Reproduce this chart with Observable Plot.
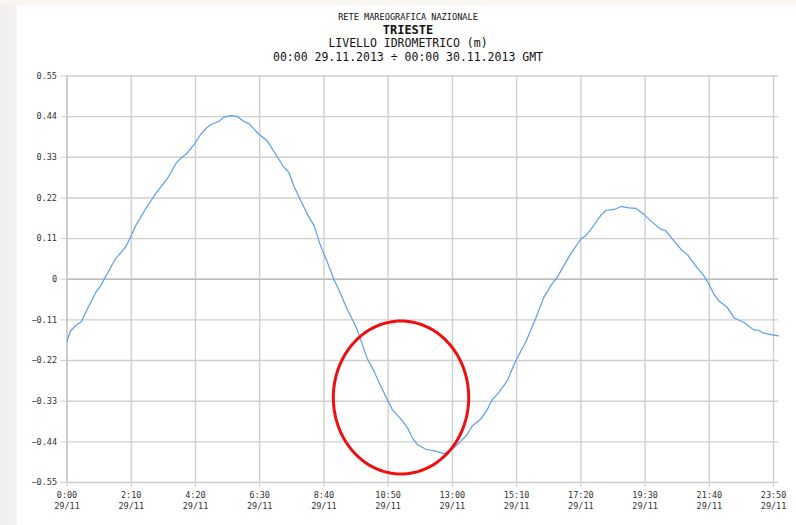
<!DOCTYPE html>
<html>
<head>
<meta charset="utf-8">
<script src="https://cdn.jsdelivr.net/npm/d3@7"></script>
<script src="https://cdn.jsdelivr.net/npm/@observablehq/plot@0.6"></script>
<style>
  html, body { margin: 0; padding: 0; width: 796px; height: 525px; overflow: hidden; background: #ffffff; }
  #page { position: relative; width: 796px; height: 525px; background: #fff; }
  #strip-left { position: absolute; left: 0; top: 0; width: 17px; height: 525px; background: linear-gradient(to right, #f1efee, #f6f4f3); }
  #strip-top { position: absolute; left: 0; top: 0; width: 796px; height: 5px; background: #f9f5ef; }
  #titles { position: absolute; left: 0; top: 0; width: 816px; height: 65px; text-align: center; font-family: "DejaVu Sans Mono", monospace; color: #111; }
  #titles div { white-space: pre; }
  #t1 { position: absolute; top: 12px; width: 100%; font-size: 8.6px; }
  #t2 { position: absolute; top: 23px; width: 100%; font-size: 12px; font-weight: bold; }
  #t3 { position: absolute; top: 36px; width: 100%; font-size: 11.5px; }
  #t4 { position: absolute; top: 50px; width: 100%; font-size: 11.5px; }
  #chart { position: absolute; left: 0; top: 65px; }
</style>
</head>
<body>
<div id="page">
  <div id="strip-left"></div>
  <div id="strip-top"></div>
  <div id="titles">
    <div id="t1">RETE MAREOGRAFICA NAZIONALE</div>
    <div id="t2">TRIESTE</div>
    <div id="t3">LIVELLO IDROMETRICO (m)</div>
    <div id="t4">00:00 29.11.2013 ÷ 00:00 30.11.2013 GMT</div>
  </div>
  <div id="chart"></div>
</div>
<script>
// Observation times (GMT, 29/11/2013) and sea level (m)
const times = [
  "00:00","00:07","00:17","00:29","00:41","00:58","01:08","01:21","01:38","01:58",
  "02:07","02:19","02:39","02:59","03:23","03:40","03:50","04:03","04:17","04:30",
  "04:42","04:50","05:07","05:17","05:31","05:44","05:58","06:08","06:28","06:45",
  "07:02","07:19","07:29","07:39","07:53","08:06","08:20","08:33","08:47","09:00",
  "09:14","09:27","09:44","09:54","10:08","10:21","10:35","10:48","10:58","11:19",
  "11:29","11:39","11:49","12:06","12:26","12:43","13:00","13:17","13:30","13:40",
  "13:57","14:11","14:21","14:34","14:51","15:08","15:28","15:48","16:05","16:19",
  "16:32","16:59","17:20","17:30","17:43","18:00","18:10","18:30","18:42","18:57",
  "19:11","19:28","19:45","20:01","20:12","20:25","20:42","20:56","21:12","21:29",
  "21:39","21:49","21:59","22:16","22:30","22:50","23:10","23:20","23:30","23:51",
  "24:00"
];
const levels = [
  -0.167,-0.140,-0.126,-0.115,-0.081,-0.036,-0.018, 0.014, 0.055, 0.086,
   0.109, 0.145, 0.190, 0.231, 0.272, 0.312, 0.327, 0.341, 0.364, 0.391,
   0.409, 0.418, 0.427, 0.438, 0.443, 0.441, 0.427, 0.421, 0.393, 0.375,
   0.339, 0.303, 0.289, 0.253, 0.213, 0.177, 0.145, 0.091, 0.046, 0.000,
  -0.040,-0.081,-0.126,-0.162,-0.216,-0.248,-0.289,-0.325,-0.352,-0.383,
  -0.402,-0.429,-0.447,-0.460,-0.465,-0.472,-0.460,-0.438,-0.420,-0.397,
  -0.379,-0.352,-0.325,-0.307,-0.275,-0.221,-0.171,-0.108,-0.049,-0.018,
   0.005, 0.068, 0.109, 0.118, 0.140, 0.172, 0.186, 0.190, 0.197, 0.193,
   0.192, 0.175, 0.154, 0.136, 0.131, 0.109, 0.082, 0.066, 0.037, 0.009,
  -0.013,-0.040,-0.058,-0.076,-0.104,-0.117,-0.137,-0.138,-0.146,-0.151,
  -0.153
];
// Axis ticks
const yTicks = [-0.55, -0.44, -0.33, -0.22, -0.11, 0, 0.11, 0.22, 0.33, 0.44, 0.55];
const xTickTimes = ["0:00","2:10","4:20","6:30","8:40","10:50","13:00","15:10","17:20","19:30","21:40","23:50"];
const xTickDate = "29/11";
// Annotation ellipse (centre time, centre level, half-width in minutes, half-height in m)
const ellipseCentre = ["11:16", -0.320];
const ellipseRadii = [137, 0.207];

const toMin = s => { const [h, m] = s.split(":").map(Number); return h * 60 + m; };
const data = times.map((t, i) => ({t: toMin(t), v: levels[i]}));
const xTicks = xTickTimes.map(toMin);
const tickLabel = new Map(xTickTimes.map(s => [toMin(s), s]));

const [ecT, ecV] = [toMin(ellipseCentre[0]), ellipseCentre[1]];
const ellipse = d3.range(0, 361, 3).map(a => ({
  t: ecT + ellipseRadii[0] * Math.cos(a * Math.PI / 180),
  v: ecV + ellipseRadii[1] * Math.sin(a * Math.PI / 180)
}));

const fmtY = d => d === 0 ? "0" : d.toFixed(2).replace("-", "\u2212");

const chart = Plot.plot({
  width: 796,
  height: 460,
  marginLeft: 66.5,
  marginRight: 18,
  marginTop: 10.5,
  marginBottom: 43,
  style: {fontFamily: "'DejaVu Sans Mono', monospace", fontSize: "8.5px", color: "#333", background: "transparent"},
  x: {domain: [0, 1440], type: "linear"},
  y: {domain: [-0.55, 0.55]},
  marks: [
    Plot.gridY(yTicks, {stroke: "#cfcfcf", strokeOpacity: 1, strokeWidth: 1.4}),
    Plot.gridX(xTicks, {stroke: "#cfcfcf", strokeOpacity: 1, strokeWidth: 1.4}),
    Plot.ruleY([0], {stroke: "#bdbdbd", strokeWidth: 1.6}),
    Plot.ruleX([0], {stroke: "#c8c8c8", strokeWidth: 1.4}),
    Plot.axisY(yTicks, {tickFormat: fmtY, tickSize: 6, tickPadding: 4, stroke: "#cfcfcf", fill: "#333", label: null}),
    Plot.axisX(xTicks, {tickFormat: d => tickLabel.get(d) + "\n" + xTickDate, tickSize: 5, tickPadding: 3, lineHeight: 1.3, stroke: "#cfcfcf", fill: "#333", label: null}),
    Plot.line(data, {x: "t", y: "v", stroke: "#5b9cec", strokeWidth: 1.2}),
    Plot.line(ellipse, {x: "t", y: "v", stroke: "#ec1010", strokeWidth: 3, clip: false})
  ]
});
document.getElementById("chart").appendChild(chart);
</script>
</body>
</html>
